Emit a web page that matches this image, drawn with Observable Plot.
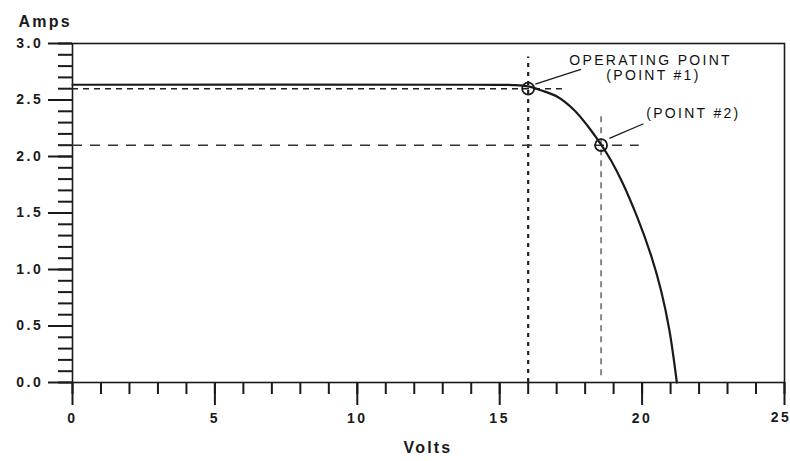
<!DOCTYPE html>
<html><head><meta charset="utf-8">
<script src="https://cdn.jsdelivr.net/npm/d3@7"></script>
<script src="https://cdn.jsdelivr.net/npm/@observablehq/plot@0.6"></script>
<style>
body{margin:0;background:#fff}
svg{font-family:"Liberation Sans",Arial,sans-serif}
g[aria-label$="tick label"], g[aria-label$="tick label"] text{letter-spacing:2.6px;font-size:14px;font-weight:bold}
.ticklbl text{letter-spacing:2.6px;font-size:14px;font-weight:bold}
.note text{letter-spacing:2.3px}
.axtitle text{letter-spacing:2.2px}
</style>
</head><body><div id="chart"></div>
<script>
// I-V curve (Volts, Amps)
const curveVolts = [0, 14, 15, 15.5, 16, 16.45, 17.04, 17.62, 18.09, 18.56, 18.91, 19.3, 19.85, 20.32, 20.67, 20.96, 21.22];
const curveAmps  = [2.635, 2.635, 2.634, 2.632, 2.62, 2.586, 2.527, 2.41, 2.27, 2.106, 1.965, 1.775, 1.45, 1.12, 0.81, 0.46, 0.0];

// marked points
const pointVolts = [16.0, 18.56];
const pointAmps  = [2.6, 2.1];
// guide extents for each point
const guideHEnd   = [17.2, 19.9];   // horizontal dashed guide ends (Volts)
const guideVTop   = [2.88, 2.39];   // vertical dashed guide tops (Amps)
const guideVBot   = [0.0, 0.06];

// annotations
const noteText  = ["OPERATING POINT", "(POINT #1)", "(POINT #2)"];
const noteVolts = [20.3, 20.4, 21.8];
const noteAmps  = [2.85, 2.72, 2.38];
// leader lines
const leadV1 = [16.25, 18.85], leadA1 = [2.64, 2.16];
const leadV2 = [17.85, 20.05], leadA2 = [2.77, 2.29];

// axis ticks
const xMajor = [0, 5, 10, 15, 20, 25];
const xMinor = d3.range(0, 26, 1);
const yMajor = [0, 0.5, 1.0, 1.5, 2.0, 2.5, 3.0];
const yMinor = d3.range(0, 31).map(d => d / 10);

const curve = curveVolts.map((v, i) => ({v, a: curveAmps[i]}));
const pts = pointVolts.map((v, i) => ({v, a: pointAmps[i], hEnd: guideHEnd[i], vTop: guideVTop[i], vBot: guideVBot[i]}));
const notes = noteText.map((t, i) => ({t, v: noteVolts[i], a: noteAmps[i]}));
const leads = leadV1.map((v, i) => ({x1: v, y1: leadA1[i], x2: leadV2[i], y2: leadA2[i]}));

const ink = "#1a1a1a";
const chart = Plot.plot({
  width: 790, height: 461,
  marginLeft: 72, marginRight: 6, marginTop: 43, marginBottom: 79,
  x: {domain: [0, 25], label: null, axis: null},
  y: {domain: [0, 3], label: null, axis: null},
  style: {fontFamily: "'Liberation Sans', Arial, sans-serif", color: ink},
  marks: [
    Plot.frame({stroke: ink, strokeWidth: 1.6}),
    Plot.axisY(yMinor, {tickSize: 14, strokeWidth: 2, stroke: ink, tickFormat: () => "", label: null}),
    Plot.axisY(yMajor, {tickSize: 24, tickPadding: 5, strokeWidth: 2, stroke: ink, tickFormat: d3.format(".1f"), fontSize: 14, fontWeight: "bold", fill: ink, label: null}),
    Plot.axisX(xMinor, {tickSize: 12, strokeWidth: 2, stroke: ink, tickFormat: () => "", label: null}),
    Plot.axisX(xMajor, {tickSize: 23, tickPadding: 8, strokeWidth: 2, stroke: ink, fontSize: 14, fontWeight: "bold", fill: ink, label: null,
      tickFormat: d => d === 25 ? "" : String(d)}),
    Plot.text([25], {x: d => d, text: d => String(d), frameAnchor: "bottom", dy: 39, dx: 7, textAnchor: "end", fontSize: 14, fontWeight: "bold", fill: ink, className: "ticklbl"}),
    // guides for point 1
    Plot.ruleY(pts.slice(0,1), {y: "a", x1: 0, x2: "hEnd", stroke: "#222", strokeWidth: 1.6, strokeDasharray: "6,5"}),
    Plot.ruleX(pts.slice(0,1), {x: "v", y1: "vBot", y2: "vTop", stroke: "#222", strokeWidth: 2.2, strokeDasharray: "4,5"}),
    // guides for point 2
    Plot.ruleY(pts.slice(1), {y: "a", x1: 0, x2: "hEnd", stroke: "#333", strokeWidth: 1.4, strokeDasharray: "10,8"}),
    Plot.ruleX(pts.slice(1), {x: "v", y1: "vBot", y2: "vTop", stroke: "#888", strokeWidth: 2, strokeDasharray: "6,5"}),
    Plot.line(curve, {x: "v", y: "a", curve: "catmull-rom", stroke: ink, strokeWidth: 2.2}),
    Plot.dot(pts, {x: "v", y: "a", r: 6, stroke: ink, strokeWidth: 1.8, fill: "none"}),
    Plot.link(leads, {x1: "x1", y1: "y1", x2: "x2", y2: "y2", stroke: ink, strokeWidth: 1.3}),
    Plot.text(notes, {x: "v", y: "a", text: "t", fontSize: 14, fill: "#111", className: "note"}),
    Plot.text(["Amps"], {text: d => d, frameAnchor: "top-left", dx: -54, dy: -28, textAnchor: "start", fontWeight: "bold", fontSize: 16, fill: ink, className: "axtitle"}),
    Plot.text(["Volts"], {text: d => d, frameAnchor: "bottom-left", dx: 331, dy: 70, textAnchor: "start", fontWeight: "bold", fontSize: 16, fill: ink, className: "axtitle"})
  ]
});
document.getElementById("chart").appendChild(chart);
</script>
</body></html>
